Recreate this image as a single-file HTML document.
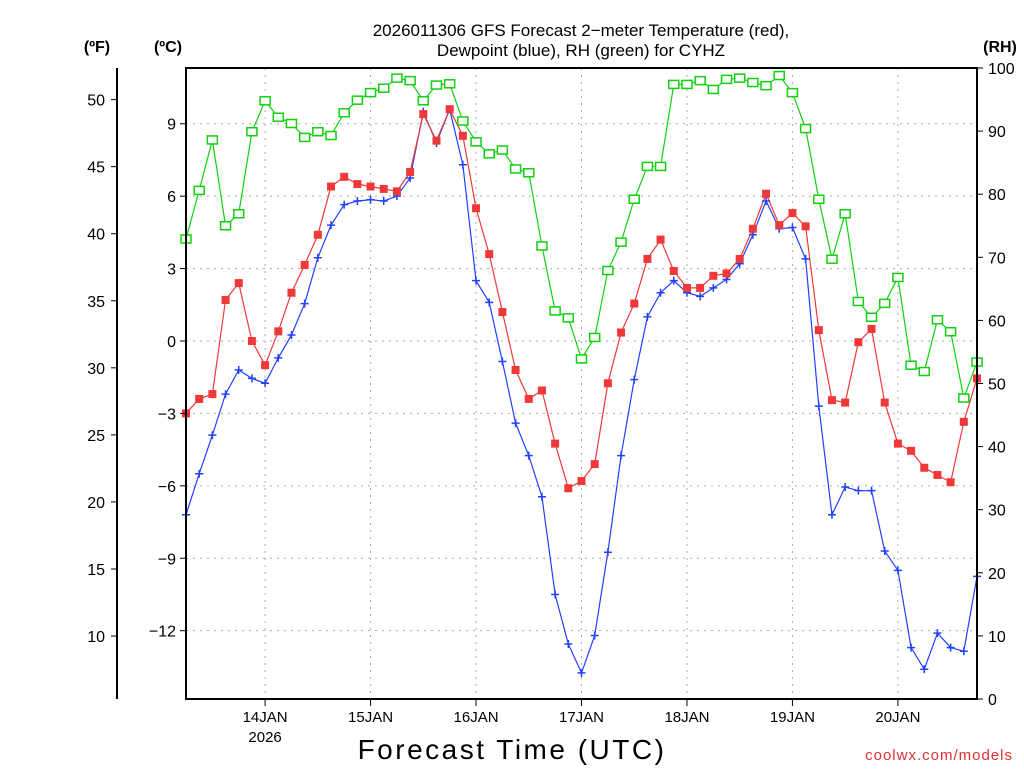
<!DOCTYPE html>
<html><head><meta charset="utf-8"><style>
body{margin:0;background:#fff;width:1024px;height:768px;overflow:hidden}
svg{font-family:"Liberation Sans",sans-serif}
</style></head><body>
<svg id="chart" width="1024" height="768" xmlns="http://www.w3.org/2000/svg">
<g id="grid"></g>
<g id="series"></g>
<g id="axes"></g>
<text x="581" y="36" text-anchor="middle" font-size="17">2026011306 GFS Forecast 2−meter Temperature (red),</text>
<text x="581" y="56" text-anchor="middle" font-size="17">Dewpoint (blue), RH (green) for CYHZ</text>
<text x="97" y="52" text-anchor="middle" font-size="16" font-weight="bold">(ºF)</text>
<text x="168" y="52" text-anchor="middle" font-size="16" font-weight="bold">(ºC)</text>
<text x="1000" y="52" text-anchor="middle" font-size="16" font-weight="bold">(RH)</text>
<text x="512" y="759" text-anchor="middle" font-size="28" letter-spacing="2.5">Forecast Time (UTC)</text>
<text x="1013" y="760" text-anchor="end" font-size="15" fill="#e03030" letter-spacing="1">coolwx.com/models</text>
</svg>
<script>
// hours after 2026-01-13 06Z, every 3 h
const hours = [0,3,6,9,12,15,18,21,24,27,30,33,36,39,42,45,48,51,54,57,60,63,66,69,72,75,78,81,84,87,90,93,96,99,102,105,108,111,114,117,120,123,126,129,132,135,138,141,144,147,150,153,156,159,162,165,168,171,174,177,180];
const tempC = [-3.0,-2.4,-2.2,1.7,2.4,0.0,-1.0,0.4,2.0,3.15,4.4,6.4,6.8,6.5,6.4,6.3,6.2,7.0,9.4,8.3,9.6,8.5,5.5,3.6,1.2,-1.2,-2.4,-2.05,-4.25,-6.1,-5.8,-5.1,-1.75,0.35,1.55,3.4,4.2,2.9,2.2,2.2,2.7,2.8,3.4,4.65,6.1,4.8,5.3,4.75,0.45,-2.45,-2.55,-0.05,0.5,-2.55,-4.25,-4.55,-5.25,-5.55,-5.85,-3.35,-1.55];
const dewC = [-7.2,-5.5,-3.9,-2.2,-1.2,-1.55,-1.75,-0.7,0.25,1.55,3.45,4.8,5.65,5.8,5.85,5.8,6.0,6.75,9.5,8.2,9.6,7.3,2.5,1.6,-0.85,-3.4,-4.75,-6.45,-10.5,-12.55,-13.75,-12.2,-8.75,-4.75,-1.6,1.0,2.0,2.5,2.0,1.85,2.2,2.55,3.2,4.4,5.8,4.65,4.7,3.4,-2.7,-7.2,-6.05,-6.2,-6.2,-8.7,-9.5,-12.7,-13.6,-12.1,-12.7,-12.85,-9.75];
const rh = [72.9,80.6,88.6,75,76.9,89.9,94.8,92.2,91.2,89,89.9,89.3,92.9,94.9,96.1,96.8,98.4,98,94.8,97.3,97.5,91.6,88.3,86.4,87,84,83.4,71.8,61.5,60.4,53.9,57.3,67.9,72.4,79.2,84.4,84.4,97.4,97.4,98,96.6,98.2,98.4,97.7,97.2,98.8,96.1,90.4,79.2,69.7,76.9,63,60.5,62.7,66.8,52.9,51.9,60.1,58.2,47.7,53.4];
const cTicks = [9,6,3,0,-3,-6,-9,-12];
const fTicks = [50,45,40,35,30,25,20,15,10];
const rhTicks = [0,10,20,30,40,50,60,70,80,90,100];
const dayLabels = ["14JAN","15JAN","16JAN","17JAN","18JAN","19JAN","20JAN"];
const dayHours = [18,42,66,90,114,138,162];

const X0=186,X1=977,Y0=68,Y1=699;
const xs = h => X0 + h*(X1-X0)/180;
const yC = c => 341 - c*24.14;
const yF = f => yC((f-32)/1.8);
const yR = r => Y1 - r*(Y1-Y0)/100;
const NS="http://www.w3.org/2000/svg";
function mk(parent,tag,attrs){const e=document.createElementNS(NS,tag);for(const k in attrs)e.setAttribute(k,attrs[k]);parent.appendChild(e);return e;}
const grid=document.getElementById('grid'),ser=document.getElementById('series'),ax=document.getElementById('axes');

cTicks.forEach(c=>{
  const l=mk(grid,'line',{x1:X0,x2:X1,y1:yC(c),y2:yC(c),stroke:'#aaa','stroke-dasharray':'2,5'});
  
  
  const t=mk(ax,'line',{x1:X0-6,x2:X0,y1:yC(c),y2:yC(c),stroke:'#000'});
  
  
  const tx=mk(ax,'text',{x:176,y:yC(c)+6,'text-anchor':'end','font-size':'16'});
  tx.textContent=(c<0?'−':'')+Math.abs(c);
  
  
});
dayHours.forEach((h,i)=>{
  const l=mk(grid,'line',{x1:xs(h),x2:xs(h),y1:Y0,y2:Y1,stroke:'#aaa','stroke-dasharray':'2,5'});
  
  
  const t=mk(ax,'line',{x1:xs(h),x2:xs(h),y1:Y1,y2:Y1+7,stroke:'#000'});
  
  
  const tx=mk(ax,'text',{x:xs(h),y:722,'text-anchor':'middle','font-size':'15'});
  tx.textContent=dayLabels[i];
  
  
});
const yr=mk(ax,'text',{x:xs(dayHours[0]),y:742,'text-anchor':'middle','font-size':'15'});
yr.textContent='2026';



const fl=mk(ax,'line',{x1:117,x2:117,y1:Y0,y2:Y1,stroke:'#000','stroke-width':2});


fTicks.forEach(f=>{
  const t=mk(ax,'line',{x1:111,x2:117,y1:yF(f),y2:yF(f),stroke:'#000'});
  
  
  const tx=mk(ax,'text',{x:105,y:yF(f)+6,'text-anchor':'end','font-size':'16'});
  tx.textContent=f;
  
  
});
rhTicks.forEach(r=>{
  const t=mk(ax,'line',{x1:X1,x2:X1+6,y1:yR(r),y2:yR(r),stroke:'#000'});
  
  
  const tx=mk(ax,'text',{x:988,y:yR(r)+6,'font-size':'16'});
  tx.textContent=r;
  
  
});
const fr=mk(ax,'rect',{x:X0,y:Y0,width:X1-X0,height:Y1-Y0,fill:'none',stroke:'#000','stroke-width':2});



function line(vals,fy,color,name){
  const p=mk(ser,'polyline',{points:vals.map((v,i)=>xs(hours[i])+','+fy(v)).join(' '),fill:'none',stroke:color,'stroke-width':1.2});
  
  
}
line(rh,yR,'#10d010','rh-line');
line(dewC,yC,'#2040ff','dewpoint-line');
line(tempC,yC,'#f03838','temperature-line');
rh.forEach((v,i)=>{
  const m=mk(ser,'rect',{x:xs(hours[i])-5,y:yR(v)-4,width:10,height:8,fill:'#fff',stroke:'#10d010','stroke-width':1.5});
  
  
});
dewC.forEach((v,i)=>{
  const x=xs(hours[i]),y=yC(v);
  const m=mk(ser,'path',{d:`M${x-4},${y}H${x+4}M${x},${y-4}V${y+4}`,stroke:'#2040ff','stroke-width':1.5});
  
  
});
tempC.forEach((v,i)=>{
  const m=mk(ser,'rect',{x:xs(hours[i])-4,y:yC(v)-4,width:8,height:8,fill:'#f03838'});
  
  
});
</script>
</body></html>
